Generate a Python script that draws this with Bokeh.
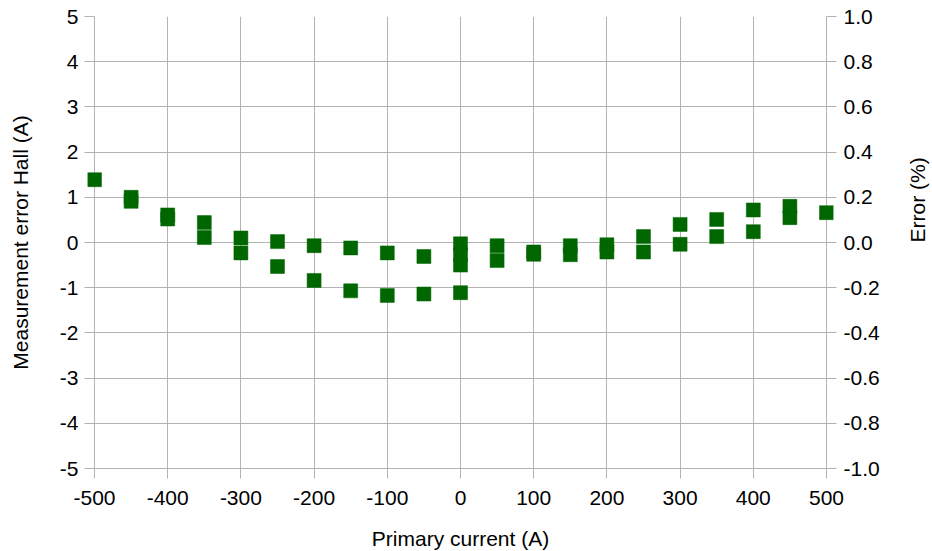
import math
from bokeh.plotting import figure
from bokeh.models import Range1d, LinearAxis, FixedTicker, CustomJSTickFormatter
from bokeh.embed import file_html
from bokeh.resources import INLINE

# Data
current_a = [-500, -450, -450, -400, -400, -350, -350, -300, -300, -250, -250,
             -200, -200, -150, -150, -100, -100, -50, -50, 0, 0, 0, 0,
             50, 50, 100, 100, 150, 150, 200, 200, 250, 250, 300, 300,
             350, 350, 400, 400, 450, 450, 500]
error_hall_a = [1.39, 1.00, 0.91, 0.61, 0.52, 0.44, 0.11, 0.10, -0.23, 0.02, -0.53,
                -0.07, -0.84, -0.12, -1.07, -0.23, -1.17, -0.31, -1.14, -0.03, -0.27, -0.50, -1.11,
                -0.07, -0.40, -0.21, -0.26, -0.07, -0.27, -0.05, -0.21, 0.13, -0.21, 0.40, -0.04,
                0.51, 0.13, 0.72, 0.24, 0.80, 0.55, 0.66]

x_ticks = [-500, -400, -300, -200, -100, 0, 100, 200, 300, 400, 500]
y_ticks = [-5, -4, -3, -2, -1, 0, 1, 2, 3, 4, 5]
pct_ticks = [-1.0, -0.8, -0.6, -0.4, -0.2, 0.0, 0.2, 0.4, 0.6, 0.8, 1.0]

FONT = "Liberation Sans"
FS = "21px"
GRID = "#b3b3b3"
GREEN = "#006600"

# frame is widened by 7px on each side so edge markers are not clipped
PAD_PX = 7
PX_PER_UNIT = 732 / 1000
x_pad = PAD_PX / PX_PER_UNIT

p = figure(frame_width=732 + 2 * PAD_PX, frame_height=452, output_backend="svg", toolbar_location=None,
           x_range=Range1d(-500 - x_pad, 500 + x_pad), y_range=Range1d(-5, 5),
           min_border_left=94 - PAD_PX, min_border_right=106 - PAD_PX,
           min_border_top=16, min_border_bottom=83)
p.outline_line_color = None
p.background_fill_color = "white"
p.border_fill_color = "white"

p.extra_y_ranges = {"pct": Range1d(-1.0, 1.0)}

p.xgrid.ticker = FixedTicker(ticks=x_ticks)
p.ygrid.ticker = FixedTicker(ticks=y_ticks)
for g in (p.xgrid[0], p.ygrid[0]):
    g.grid_line_color = GRID
    g.grid_line_width = 1

p.scatter(current_a, error_hall_a, marker="square", size=14,
          fill_color=GREEN, line_color=GREEN, line_width=0.5)

def style_axis(ax):
    ax.axis_line_color = GRID
    ax.major_tick_line_color = GRID
    ax.minor_tick_line_color = None
    ax.major_tick_out = 10
    ax.major_tick_in = 0
    ax.major_label_text_font = FONT
    ax.major_label_text_font_size = FS
    ax.major_label_text_color = "black"
    ax.axis_label_text_font = FONT
    ax.axis_label_text_font_size = FS
    ax.axis_label_text_font_style = "normal"
    ax.axis_label_text_color = "black"

int_fmt = CustomJSTickFormatter(code="return tick.toFixed(0);")
dec_fmt = CustomJSTickFormatter(code="return tick.toFixed(1);")

xa = p.xaxis[0]
xa.ticker = FixedTicker(ticks=x_ticks)
xa.formatter = int_fmt
xa.axis_label = "Primary current (A)"
style_axis(xa)
xa.major_label_standoff = 12
xa.axis_label_standoff = 19

ya = p.yaxis[0]
ya.ticker = FixedTicker(ticks=y_ticks)
ya.formatter = int_fmt
ya.axis_label = "Measurement error Hall (A)"
style_axis(ya)
ya.axis_line_color = None
ya.major_tick_in = PAD_PX
ya.major_tick_out = 10 - PAD_PX
ya.major_label_standoff = 6
ya.axis_label_standoff = 25

ra = LinearAxis(y_range_name="pct", ticker=FixedTicker(ticks=pct_ticks),
                formatter=dec_fmt, axis_label="Error (%)")
style_axis(ra)
ra.axis_line_color = None
ra.major_tick_in = PAD_PX
ra.major_tick_out = 10 - PAD_PX
ra.major_label_standoff = 7
ra.axis_label_standoff = 35
ra.axis_label_orientation = math.pi / 2
p.add_layout(ra, "right")

open("out.html", "w").write(file_html(p, INLINE))
